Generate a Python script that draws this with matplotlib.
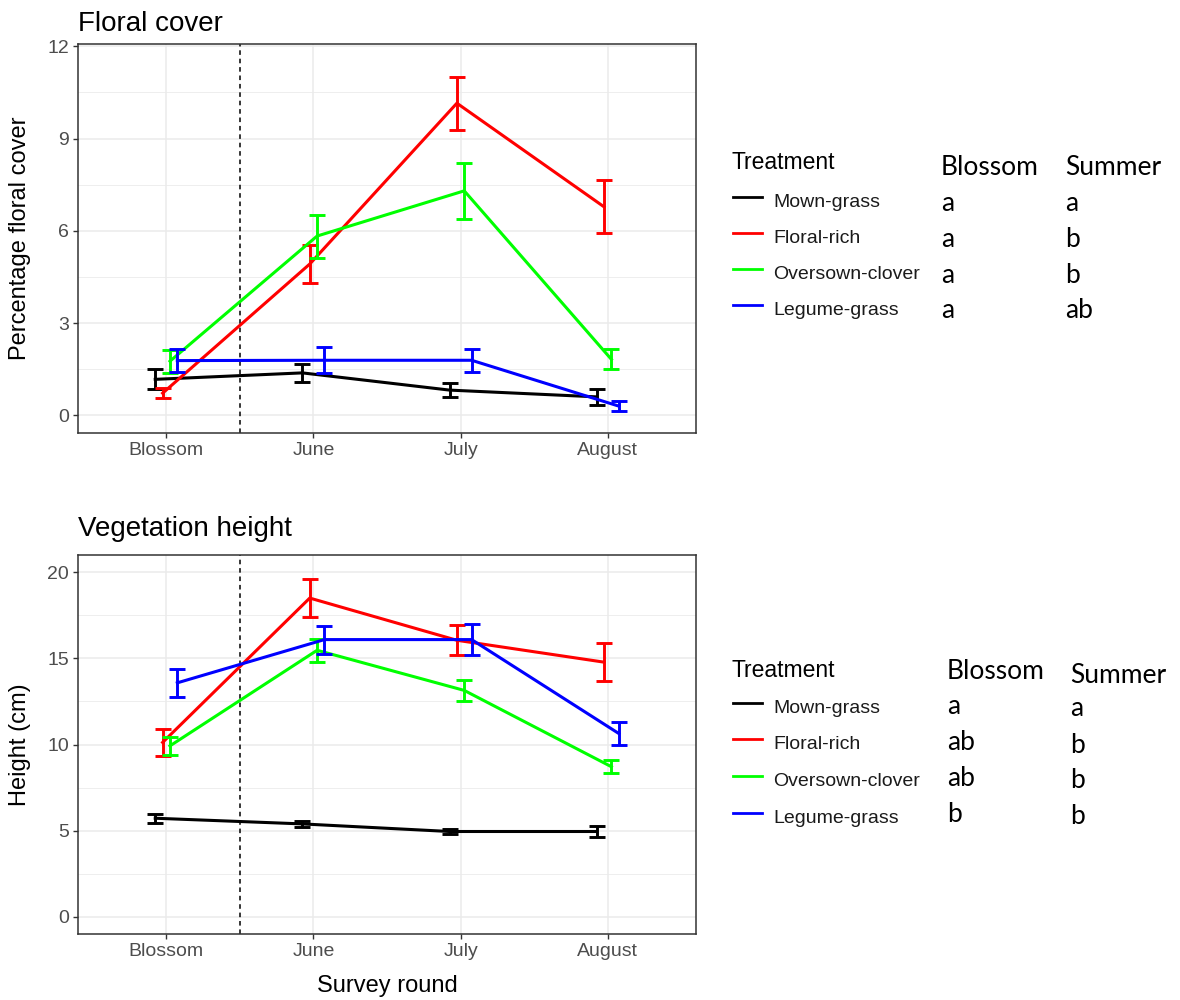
import numpy as np
import matplotlib.pyplot as plt
from matplotlib.lines import Line2D

plt.rcParams['font.family'] = ['Liberation Sans', 'DejaVu Sans']

# data
rounds = ['Blossom', 'June', 'July', 'August']
treatments = ['Mown-grass', 'Floral-rich', 'Oversown-clover', 'Legume-grass']
colors = ['black', '#FF0000', '#00FF00', '#0000FF']

floral_mean = [[1.17, 1.38, 0.82, 0.60],
               [0.72, 4.92, 10.15, 6.78],
               [1.76, 5.83, 7.30, 1.82],
               [1.78, 1.79, 1.79, 0.30]]
floral_se = [[0.33, 0.30, 0.22, 0.27],
             [0.16, 0.63, 0.86, 0.86],
             [0.38, 0.70, 0.92, 0.33],
             [0.37, 0.42, 0.37, 0.16]]

height_mean = [[5.72, 5.39, 4.95, 4.95],
               [10.12, 18.50, 16.05, 14.78],
               [9.92, 15.47, 13.14, 8.71],
               [13.58, 16.09, 16.09, 10.64]]
height_se = [[0.25, 0.18, 0.13, 0.30],
             [0.80, 1.12, 0.88, 1.09],
             [0.53, 0.68, 0.60, 0.37],
             [0.83, 0.81, 0.88, 0.65]]

floral_blossom = ['a', 'a', 'a', 'a']
floral_summer = ['a', 'b', 'b', 'ab']
height_blossom = ['a', 'ab', 'ab', 'b']
height_summer = ['a', 'b', 'b', 'b']

offsets = [-0.075, -0.025, 0.025, 0.075]  # position_dodge

W, H = 1180, 1000
fig = plt.figure(figsize=(11.8, 10), dpi=100)


def fx(px):
    return px / W


def fy(py):
    return 1 - py / H


ax1 = fig.add_axes([fx(78), fy(433), (696 - 78) / W, (433 - 44) / H])
ax2 = fig.add_axes([fx(78), fy(934), (696 - 78) / W, (934 - 555) / H])


def draw_panel(ax, means, ses, ylim, yticks, minor):
    x = np.arange(1, 5)
    for i in range(4):
        xs = x + offsets[i]
        ax.plot(xs, means[i], color=colors[i], lw=2.2, zorder=3)
        ax.errorbar(xs, means[i], yerr=ses[i], fmt='none', ecolor=colors[i],
                    elinewidth=2.1, capsize=5.5, capthick=2.1, zorder=3)
    ax.axvline(1.5, color='black', ls=(0, (3, 2.5)), lw=1.1, zorder=2)
    ax.set_xlim(0.4, 4.6)
    ax.set_ylim(*ylim)
    ax.set_xticks(x)
    ax.set_xticklabels(rounds)
    ax.set_yticks(yticks)
    ax.set_yticks(minor, minor=True)
    ax.grid(which='major', color='#EBEBEB', lw=1.1)
    ax.grid(which='minor', axis='y', color='#EBEBEB', lw=0.6)
    ax.set_axisbelow(True)
    for s in ax.spines.values():
        s.set_color('#333333')
        s.set_linewidth(1.1)
    ax.tick_params(which='major', length=3.5, width=1, color='#333333',
                   labelcolor='#4D4D4D', labelsize=14, pad=3)
    ax.tick_params(which='minor', length=0)


draw_panel(ax1, floral_mean, floral_se, (-0.575, 12.075),
           [0, 3, 6, 9, 12], [1.5, 4.5, 7.5, 10.5])
draw_panel(ax2, height_mean, height_se, (-1, 21),
           [0, 5, 10, 15, 20], [2.5, 7.5, 12.5, 17.5])

fig.text(fx(78), fy(31), 'Floral cover', fontsize=20, va='baseline')
fig.text(fx(78), fy(536), 'Vegetation height', fontsize=20, va='baseline')
fig.text(fx(20), fy((44 + 433) / 2), 'Percentage floral cover', rotation=90,
         ha='center', va='center', fontsize=17)
fig.text(fx(20), fy((555 + 934) / 2), 'Height (cm)', rotation=90,
         ha='center', va='center', fontsize=17)
fig.text(fx(387), fy(992), 'Survey round', ha='center', va='baseline', fontsize=17)


def draw_legend(title_y, rows_y, hdr, cols, blossom, summer):
    fig.text(fx(732), fy(title_y), 'Treatment', fontsize=16.5, va='baseline')
    for i in range(4):
        yb = rows_y[i]
        fig.add_artist(Line2D([fx(733), fx(762)], [fy(yb - 10)] * 2,
                              color=colors[i], lw=2.0, transform=fig.transFigure))
        fig.text(fx(773), fy(yb), treatments[i], fontsize=14, va='baseline',
                 color='#1A1A1A')
    for (hx, hy), name in zip(hdr, ['Blossom', 'Summer']):
        fig.text(fx(hx), fy(hy), name, fontsize=19, va='baseline',
                 family=['Lato', 'DejaVu Sans'])
    for (cx, ys), labels in zip(cols, [blossom, summer]):
        for yb, lab in zip(ys, labels):
            fig.text(fx(cx), fy(yb), lab, fontsize=19, va='baseline',
                     family=['Lato', 'DejaVu Sans'])


draw_legend(169, [207, 243, 279, 315],
            [(941, 175), (1065, 175)],
            [(941, [211, 247, 283, 318]), (1065, [211, 247, 283, 318])],
            floral_blossom, floral_summer)
draw_legend(677, [713, 749, 786, 823],
            [(947, 679), (1070, 683)],
            [(947, [714, 750, 786, 822]), (1070, [716, 753, 788, 824])],
            height_blossom, height_summer)

fig.savefig('out.png', dpi=100)
